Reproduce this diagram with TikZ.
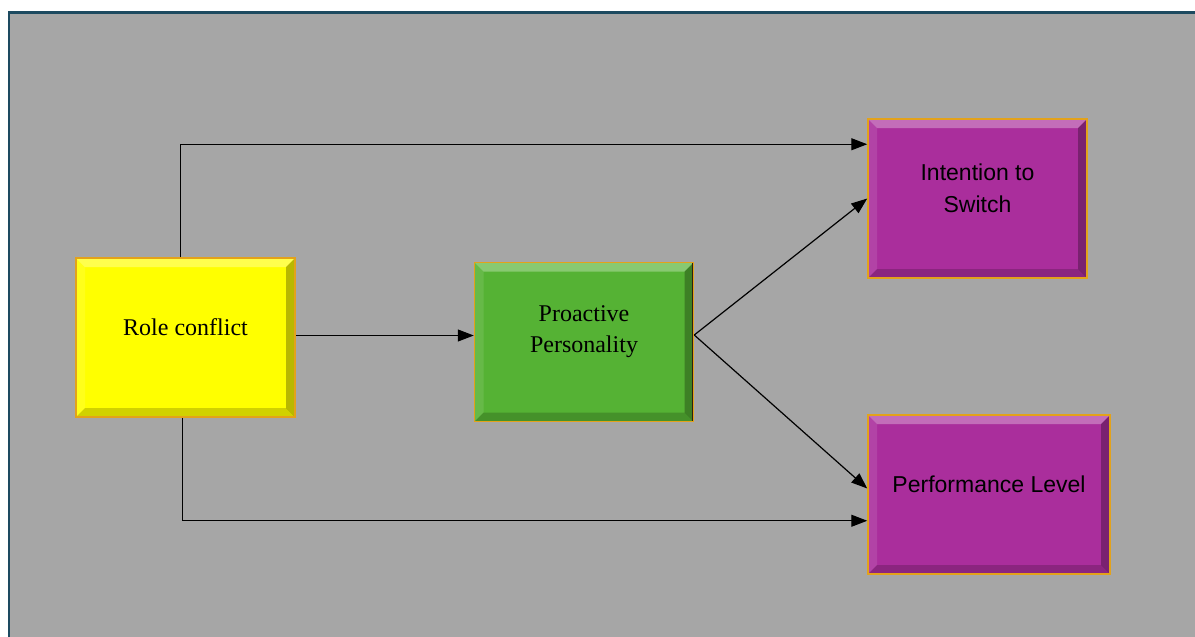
\documentclass[tikz,border=0pt]{standalone}
\usepackage{fontspec}
\setmainfont{Liberation Serif}
\newfontfamily\labelsans{Liberation Sans}
\usetikzlibrary{arrows.meta}

\definecolor{bggray}{HTML}{A6A6A6}
\definecolor{framecol}{HTML}{1D4A60}
\definecolor{roleyellow}{HTML}{FFFF00}
\definecolor{progreen}{HTML}{55B234}
\definecolor{outpurple}{HTML}{AA2E9C}
\definecolor{boxgold}{HTML}{E3A21A}

% raised look: light top/left faces, dark right/bottom faces
\newcommand{\bevelfaces}{%
  \fill[white,opacity=.3] (path picture bounding box.north west) -- (path picture bounding box.north east)
    -- ([xshift=-9pt,yshift=-9pt]path picture bounding box.north east) -- ([xshift=9pt,yshift=-9pt]path picture bounding box.north west) -- cycle;
  \fill[white,opacity=.1] (path picture bounding box.north west) -- ([xshift=9pt,yshift=-9pt]path picture bounding box.north west)
    -- ([xshift=9pt,yshift=9pt]path picture bounding box.south west) -- (path picture bounding box.south west) -- cycle;
  \fill[black,opacity=.28] (path picture bounding box.north east) -- (path picture bounding box.south east)
    -- ([xshift=-9pt,yshift=9pt]path picture bounding box.south east) -- ([xshift=-9pt,yshift=-9pt]path picture bounding box.north east) -- cycle;
  \fill[black,opacity=.18] (path picture bounding box.south west) -- (path picture bounding box.south east)
    -- ([xshift=-9pt,yshift=9pt]path picture bounding box.south east) -- ([xshift=9pt,yshift=9pt]path picture bounding box.south west) -- cycle;
  \draw[black!75!brown,line width=3pt] (path picture bounding box.north east) -- (path picture bounding box.south east);
}

\tikzset{
  factor/.style={draw=boxgold, line width=1.5pt, minimum width=219pt, minimum height=159pt,
    inner sep=0pt, path picture={\bevelfaces}},
  serifname/.style={align=center, font=\fontsize{24}{31}\selectfont},
  sansname/.style={align=center, font=\labelsans\fontsize{23}{32}\selectfont},
  link/.style={line width=1.2pt, -{Triangle[length=16pt,width=12pt]}}
}

\begin{document}
\begin{tikzpicture}[x=1pt,y=-1pt]
\useasboundingbox (0,0) rectangle (1195,637);
\filldraw[fill=bggray, draw=framecol, line width=2.5pt] (9,12.5) rectangle (1210,650);

\node[factor, fill=roleyellow] (role) at (185.5,337.5) {};
\node[factor, fill=progreen] (pro) at (584,342) {};
\node[factor, fill=outpurple] (intent) at (977.5,198.5) {};
\node[factor, fill=outpurple, minimum width=242pt] (perf) at (989,494.5) {};

\node[serifname] (role-t) at ([yshift=10pt]role) {Role conflict};
\node[serifname] (pro-t) at ([yshift=10pt]pro) {Proactive\\Personality};
\node[sansname] (intent-t) at ([yshift=10pt]intent) {Intention to\\Switch};
\node[sansname] (perf-t) at ([yshift=10pt]perf) {Performance Level};

\draw[link] ([xshift=-5pt]role.north) |- ([yshift=-26pt]intent.north west);
\draw[link] ([yshift=2pt]role.east) -- ([yshift=2pt]role.east -| pro.west);
\draw[link] ([xshift=-3pt]role.south) |- ([yshift=54pt]perf.south west);
\draw[link] ([yshift=7pt]pro.east) -- (intent.west);
\draw[link] ([yshift=7pt]pro.east) -- ([yshift=6pt]perf.west);
\end{tikzpicture}
\end{document}
